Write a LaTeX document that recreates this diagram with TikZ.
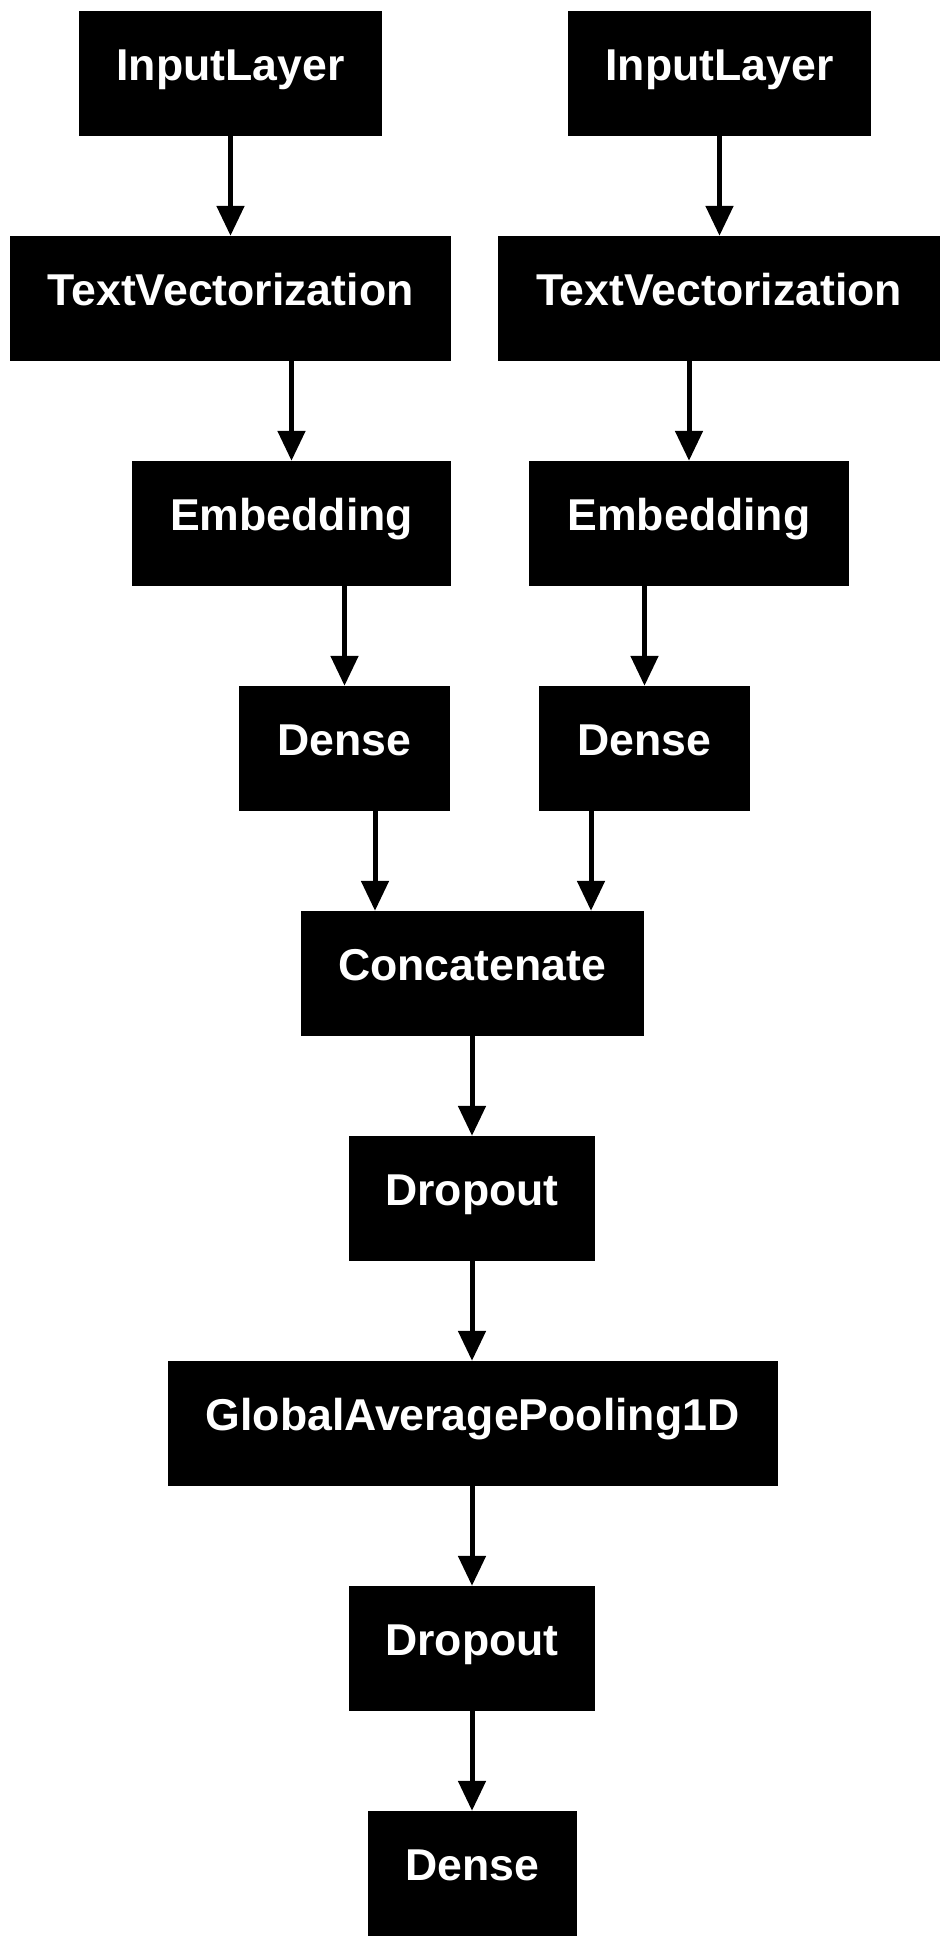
\documentclass[tikz,border=0pt]{standalone}
\usepackage{fontspec}
\setmainfont{Liberation Sans}
\usetikzlibrary{arrows.meta}
\begin{document}
\begin{tikzpicture}[x=1pt,y=-1pt,
  layer/.style={fill=black,draw=none,text=white,inner sep=0pt,minimum height=125pt,
    text height=31pt,text depth=17pt,font=\fontsize{44.6}{50}\selectfont\bfseries},
  arr/.style={line width=5pt,draw=black,-{Triangle[length=30pt,width=27pt]}}]
\fill[white] (0,0) rectangle (950,1947);
\useasboundingbox (0,0) rectangle (950,1947);
\node[layer,minimum width=303pt] (il1) at (230.5,73.5) {InputLayer};
\node[layer,minimum width=303pt] (il2) at (719.5,73.5) {InputLayer};
\node[layer,minimum width=441pt] (tv1) at (230.5,298.5) {TextVectorization};
\node[layer,minimum width=442pt] (tv2) at (719,298.5) {TextVectorization};
\node[layer,minimum width=319pt] (em1) at (291.5,523.5) {Embedding};
\node[layer,minimum width=320pt] (em2) at (689,523.5) {Embedding};
\node[layer,minimum width=211pt] (de1) at (344.5,748.5) {Dense};
\node[layer,minimum width=211pt] (de2) at (644.5,748.5) {Dense};
\node[layer,minimum width=343pt] (cat) at (472,973.5) {Concatenate};
\node[layer,minimum width=246pt] (dr1) at (472,1198.5) {Dropout};
\node[layer,minimum width=610pt] (gap) at (472.5,1423.5) {GlobalAveragePooling1D};
\node[layer,minimum width=246pt] (dr2) at (472,1648.5) {Dropout};
\node[layer,minimum width=209pt] (de3) at (472,1873.5) {Dense};
\coordinate (j1) at (375,0);
\coordinate (j2) at (591,0);
\draw[arr] (il1.south) -- (tv1.north);
\draw[arr] (il2.south) -- (il2.south |- tv2.north);
\draw[arr] (tv1.south -| em1.north) -- (em1.north);
\draw[arr] (tv2.south -| em2.north) -- (em2.north);
\draw[arr] (em1.south -| de1.north) -- (de1.north);
\draw[arr] (em2.south -| de2.north) -- (de2.north);
\draw[arr] (de1.south -| j1) -- (cat.north -| j1);
\draw[arr] (de2.south -| j2) -- (cat.north -| j2);
\draw[arr] (cat.south) -- (dr1.north);
\draw[arr] (dr1.south) -- (dr1.south |- gap.north);
\draw[arr] (gap.south -| dr2.north) -- (dr2.north);
\draw[arr] (dr2.south) -- (de3.north);
\end{tikzpicture}
\end{document}
